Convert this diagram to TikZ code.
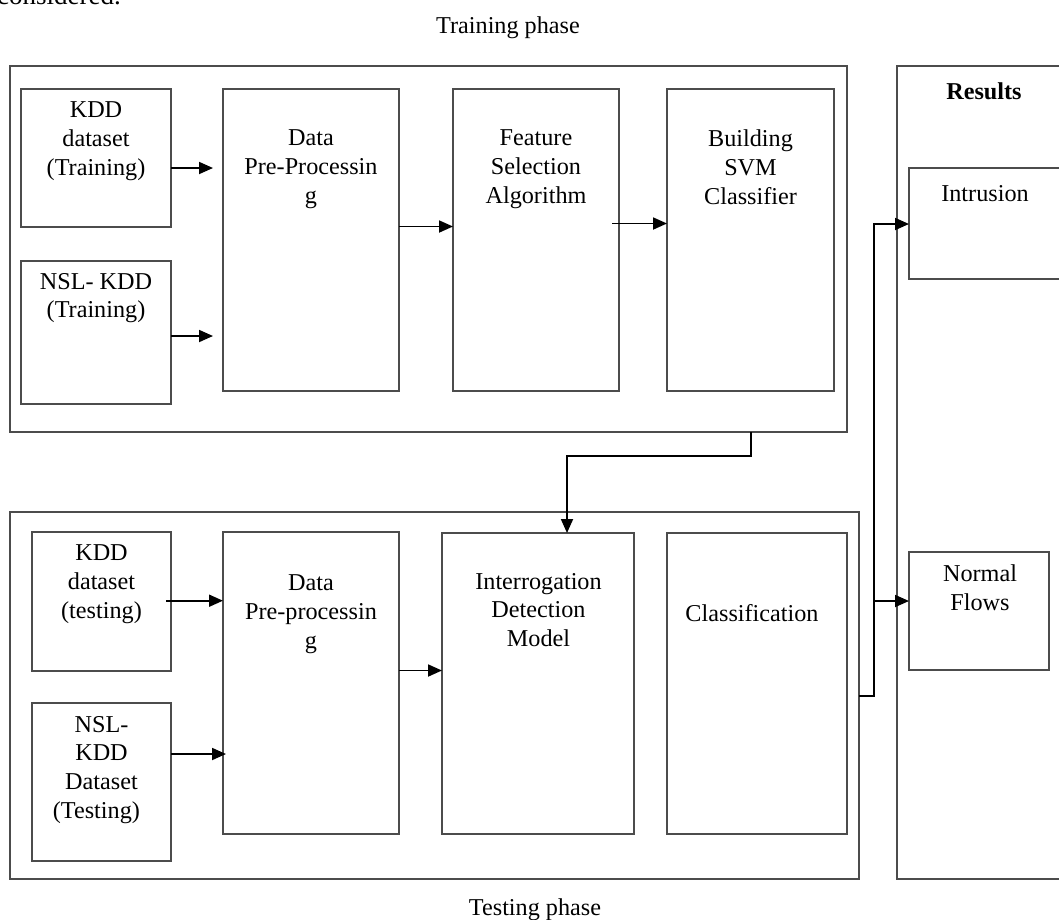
\documentclass[tikz,border=0pt]{standalone}
\usepackage{fontspec}
\setmainfont{Liberation Serif}
\usetikzlibrary{arrows.meta,fit}
\begin{document}
\begin{tikzpicture}[x=1pt,y=-1pt,
  box/.style={draw=black!70, line width=2pt, inner sep=0pt, outer sep=0pt},
  conn/.style={draw=black, line width=1.8pt},
  arr/.style={conn, -{Triangle[length=14pt,width=12pt]}},
  lbl/.style={font=\fontsize{24.2}{28.8}\selectfont, align=center, inner sep=0pt, anchor=north, execute at begin node=\strut},
]
\useasboundingbox (0,0) rectangle (1059,919);
\clip (0,0) rectangle (1059,919);

% boxes
\node[box, fit={(10,65.5) (847,432)}] (train) {};
\node[box, fit={(21,89) (171,227)}] (kddtr) {};
\node[box, fit={(21,261) (171,404)}] (nsltr) {};
\node[box, fit={(223,89) (399,391)}] (dpptr) {};
\node[box, fit={(453,89) (619,391)}] (feat) {};
\node[box, fit={(667,89) (834,391)}] (svm) {};
\node[box, fit={(897,65.5) (1075,879)}] (results) {};
\node[box, fit={(909,168) (1075,279)}] (intr) {};
\node[box, fit={(10,512) (859,879)}] (test) {};
\node[box, fit={(32,532) (171,671)}] (kddte) {};
\node[box, fit={(32,703) (171,861)}] (nslte) {};
\node[box, fit={(223,532) (399,834)}] (dppte) {};
\node[box, fit={(442,533) (634,834)}] (idm) {};
\node[box, fit={(667,533) (847,834)}] (cls) {};
\node[box, fit={(909,552) (1049,670)}] (norm) {};

% texts
\node[lbl, font=\fontsize{27}{32}\selectfont, anchor=north west] (prev) at (-3,-18.4) {considered.};
\node[lbl] (ttrain) at (508,12.8) {Training phase};
\node[lbl] (tkddtr) at (96,101.5) {KDD\\dataset\\(Training)};
\node[lbl] (tnsltr) at (96,272.8) {NSL- KDD\\(Training)};
\node[lbl] (tdpptr) at (311,129.8) {Data\\Pre-Processin\\g};
\node[lbl] (tfeat) at (536,129.8) {Feature\\Selection\\Algorithm};
\node[lbl] (tsvm) at (750.5,129.8) {Building\\SVM\\Classifier};
\node[lbl] (tres) at (984,78.8) {\bfseries Results};
\node[lbl] (tintr) at (985,181.5) {Intrusion};
\node[lbl] (tkddte) at (101.5,544.8) {KDD\\dataset\\(testing)};
\node[lbl] (tnslte) at (101.5,715.8) {NSL-\\KDD\\Dataset\hspace*{26.4pt}\\(Testing)\hspace*{10.2pt}};
\node[lbl] (tdppte) at (311,574.8) {Data\\Pre-processin\\g};
\node[lbl] (tidm) at (538.5,572.8) {Interrogation\\Detection\\Model};
\node[lbl] (tcls) at (752,601.5) {Classification};
\node[lbl] (tnorm) at (980,564.8) {Normal\\Flows};
\node[lbl] (ttest) at (535,895.3) {Testing phase};

% connectors
\draw[arr, shorten >=10pt] (kddtr.east |- 0,168) -- (dpptr.west |- 0,168);
\draw[arr, shorten >=10pt] (nsltr.east |- 0,336) -- (dpptr.west |- 0,336);
\draw[arr] (dpptr.east |- 0,226.5) -- (feat.west |- 0,226.5);
\draw[arr, shorten <=-7pt] (feat.east |- 0,223.5) -- (svm.west |- 0,223.5);
\coordinate (bend) at (751,455.7);
\coordinate (bendb) at (567,455.7);
\draw[arr] (train.south -| bend) -- (bend) -- (bendb) -- (idm.north -| bendb);
\draw[arr, shorten <=-5pt] (kddte.east |- 0,600.7) -- (dppte.west |- 0,600.7);
\draw[arr, shorten >=-3pt] (nslte.east |- 0,754) -- (dppte.west |- 0,754);
\draw[arr] (dppte.east |- 0,670.5) -- (idm.west |- 0,670.5);
\coordinate (bus) at (874,696);
\draw[arr] (test.east |- bus) -- (bus) |- (intr.west |- 0,224);
\draw[arr] (bus |- 0,601) -- (norm.west |- 0,601);
\end{tikzpicture}
\end{document}
